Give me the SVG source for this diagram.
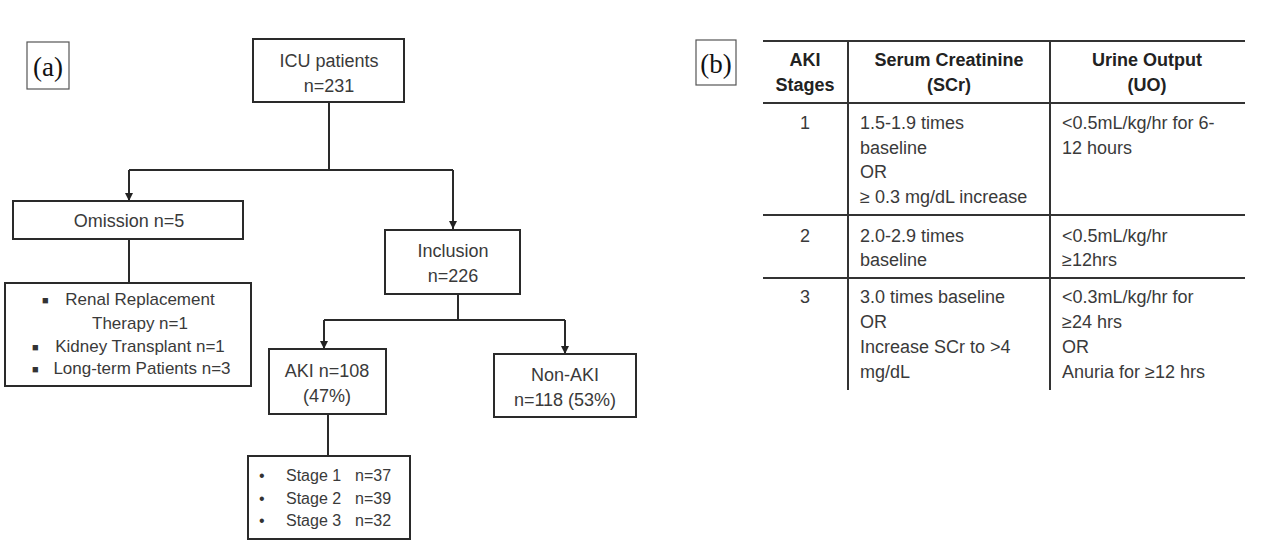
<svg xmlns="http://www.w3.org/2000/svg" width="1262" height="548" viewBox="0 0 1262 548">
<defs>
<marker id="arr" viewBox="0 0 10 10" refX="10" refY="5" markerWidth="8" markerHeight="8" markerUnits="userSpaceOnUse" orient="auto">
<path d="M0,0 L10,5 L0,10 z" fill="#222"/>
</marker>
<style>
.box{fill:#fff;stroke:#2a2a2a;stroke-width:2}
.lbl{fill:#fff;stroke:#555;stroke-width:1.2}
.t{font-family:"Liberation Sans",Arial,sans-serif;font-size:18px;fill:#3a3a3a}
.s{font-family:"Liberation Sans",Arial,sans-serif;font-size:17px;fill:#3a3a3a}
.st{font-family:"Liberation Sans",Arial,sans-serif;font-size:16px;fill:#3a3a3a}
.m{text-anchor:middle}
.b{font-weight:bold;fill:#222}
.ser{font-family:"Liberation Serif","Times New Roman",serif;font-size:27px;fill:#111}
.con{fill:none;stroke:#2a2a2a;stroke-width:2}
.tl{stroke:#333;stroke-width:2}
.bul{font-family:"Liberation Sans",Arial,sans-serif;font-size:11px;fill:#333}
.bul2{font-family:"Liberation Sans",Arial,sans-serif;font-size:16px;fill:#333}
</style>
</defs>
<rect width="1262" height="548" fill="#fff"/>

<g id="label-a">
<rect class="lbl" x="27" y="42" width="42" height="47"/>
<text class="ser m" x="48" y="76">(a)</text>
</g>

<g id="connectors">
<path class="con" d="M329,102 V170 M129,170 H453"/>
<path class="con" d="M129,170 V201" marker-end="url(#arr)"/>
<path class="con" d="M453,170 V229" marker-end="url(#arr)"/>
<path class="con" d="M129,239 V283"/>
<path class="con" d="M458,294 V320 M324,320 H565"/>
<path class="con" d="M324,320 V349" marker-end="url(#arr)"/>
<path class="con" d="M565,320 V354" marker-end="url(#arr)"/>
<path class="con" d="M328,414 V456"/>
</g>

<g id="icu">
<rect class="box" x="253" y="39" width="151" height="63"/>
<text class="t m" x="329" y="67">ICU patients</text>
<text class="t m" x="329" y="92">n=231</text>
</g>

<g id="omission">
<rect class="box" x="13" y="201" width="230" height="38"/>
<text class="t m" x="129" y="227">Omission n=5</text>
</g>

<g id="omission-details">
<rect class="box" x="5" y="283" width="246" height="103"/>
<text class="bul" x="42" y="304">■</text>
<text class="s m" x="140" y="305">Renal Replacement</text>
<text class="s m" x="140" y="329">Therapy n=1</text>
<text class="bul" x="32" y="351">■</text>
<text class="s m" x="140" y="352">Kidney Transplant n=1</text>
<text class="bul" x="32" y="373">■</text>
<text class="s m" x="142" y="374">Long-term Patients n=3</text>
</g>

<g id="inclusion">
<rect class="box" x="385" y="230" width="135" height="64"/>
<text class="t m" x="453" y="257">Inclusion</text>
<text class="t m" x="453" y="282">n=226</text>
</g>

<g id="aki">
<rect class="box" x="269" y="349" width="117" height="65"/>
<text class="t m" x="327" y="377">AKI n=108</text>
<text class="t m" x="327" y="402">(47%)</text>
</g>

<g id="non-aki">
<rect class="box" x="494" y="354" width="142" height="63"/>
<text class="t m" x="565" y="381">Non-AKI</text>
<text class="t m" x="565" y="406">n=118 (53%)</text>
</g>

<g id="aki-stages">
<rect class="box" x="248" y="456" width="162" height="83"/>
<text class="bul2" x="259" y="481">•</text>
<text class="st" x="286" y="481">Stage 1</text>
<text class="st" x="355" y="481">n=37</text>
<text class="bul2" x="259" y="504">•</text>
<text class="st" x="286" y="504">Stage 2</text>
<text class="st" x="355" y="504">n=39</text>
<text class="bul2" x="259" y="526">•</text>
<text class="st" x="286" y="526">Stage 3</text>
<text class="st" x="355" y="526">n=32</text>
</g>

<g id="label-b">
<rect class="lbl" x="696" y="40" width="40" height="45"/>
<text class="ser m" x="716" y="73">(b)</text>
</g>

<g id="table">
<line class="tl" x1="763" y1="41" x2="1245" y2="41"/>
<line class="tl" x1="763" y1="103" x2="1245" y2="103"/>
<line class="tl" x1="763" y1="215" x2="1245" y2="215"/>
<line class="tl" x1="763" y1="278" x2="1245" y2="278"/>
<line class="tl" x1="848" y1="41" x2="848" y2="390"/>
<line class="tl" x1="1050" y1="41" x2="1050" y2="390"/>

<text class="t b m" x="805" y="66">AKI</text>
<text class="t b m" x="805" y="91">Stages</text>
<text class="t b m" x="949" y="66">Serum Creatinine</text>
<text class="t b m" x="949" y="91">(SCr)</text>
<text class="t b m" x="1147" y="66">Urine Output</text>
<text class="t b m" x="1147" y="91">(UO)</text>

<text class="t m" x="805" y="129">1</text>
<text class="t" x="860" y="129">1.5-1.9 times</text>
<text class="t" x="860" y="154">baseline</text>
<text class="t" x="860" y="178">OR</text>
<text class="t" x="860" y="203">≥ 0.3 mg/dL increase</text>
<text class="t" x="1062" y="129">&lt;0.5mL/kg/hr for 6-</text>
<text class="t" x="1062" y="154">12 hours</text>

<text class="t m" x="805" y="242">2</text>
<text class="t" x="860" y="242">2.0-2.9 times</text>
<text class="t" x="860" y="266">baseline</text>
<text class="t" x="1062" y="242">&lt;0.5mL/kg/hr</text>
<text class="t" x="1062" y="266">≥12hrs</text>

<text class="t m" x="805" y="303">3</text>
<text class="t" x="860" y="303">3.0 times baseline</text>
<text class="t" x="860" y="328">OR</text>
<text class="t" x="860" y="353">Increase SCr to &gt;4</text>
<text class="t" x="860" y="378">mg/dL</text>
<text class="t" x="1062" y="303">&lt;0.3mL/kg/hr for</text>
<text class="t" x="1062" y="328">≥24 hrs</text>
<text class="t" x="1062" y="353">OR</text>
<text class="t" x="1062" y="378">Anuria for ≥12 hrs</text>
</g>
</svg>
